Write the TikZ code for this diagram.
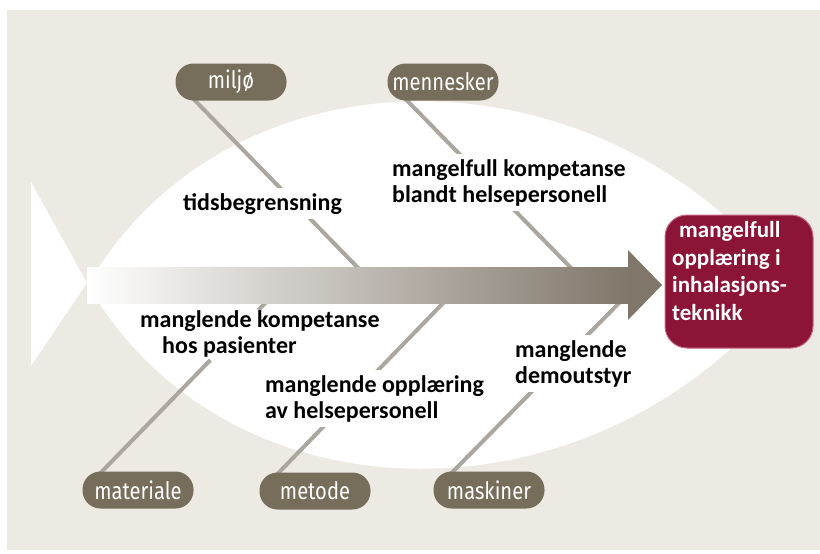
\documentclass[tikz,border=0pt]{standalone}
\usepackage{fontspec}
\setmainfont{Carlito}
\newfontfamily\pillfont[FakeStretch=0.84]{Fira Sans}
\definecolor{bgc}{HTML}{EDEAE3}
\definecolor{pillc}{HTML}{776D5B}
\definecolor{bone}{HTML}{ABA79E}
\definecolor{arrowc}{HTML}{80776A}
\definecolor{goalc}{HTML}{8C1437}
\definecolor{goaledge}{HTML}{C46A85}
\pgfdeclarelayer{background}
\pgfdeclarelayer{lines}
\pgfsetlayers{background,lines,main}
\tikzset{
 pill/.style={fill=pillc, text=white, rounded corners=18pt, minimum width=111pt, minimum height=37pt, inner sep=0pt, font=\pillfont\fontsize{24}{26}\selectfont},
 bonel/.style={draw=bone, line width=4pt},
 cause/.style={fill=white, inner sep=5pt, align=left, font=\bfseries\fontsize{24}{26}\selectfont, anchor=base west},
 goal/.style={fill=goalc, draw=goaledge, line width=1pt, rounded corners=22pt, minimum width=148pt, minimum height=133pt},
 goaltext/.style={text=white, align=left, font=\bfseries\fontsize{23}{27.5}\selectfont, inner sep=0pt, anchor=base west},
}
\begin{document}
\begin{tikzpicture}[x=1pt,y=-1pt]
\useasboundingbox (0,0) rectangle (820,554);
\begin{pgfonlayer}{background}
\fill[bgc] (7,10) rectangle (820,550);
\fill[white] (88,285) .. controls (230,40) and (600,40) .. (790,285) .. controls (600,530) and (230,530) .. (88,285) -- cycle;
\fill[white] (31,182) -- (87,283) -- (31,366) -- cycle;
\end{pgfonlayer}
% arrow
\shade[left color=white, right color=arrowc] (87,267) rectangle (629,303);
\fill[arrowc] (628,250) -- (662,285) -- (628,320) -- cycle;
% pills
\node[pill] (miljo) at (231,82) {miljø};
\node[pill] (mennesker) at (443,82) {mennesker};
\node[pill] (materiale) at (138,490) {materiale};
\node[pill] (metode) at (315,491) {metode};
\node[pill] (maskiner) at (489,490) {maskiner};
% end points on the arrow
\coordinate (e1) at (362,272);
\coordinate (e2) at (575,272);
\coordinate (e3) at (270,298);
\coordinate (e4) at (448,298);
\coordinate (e5) at (625,297);
% where the materiale line is broken by its label
\coordinate (m3a) at (210.4,360);
\coordinate (m3b) at (258.5,310);
% cause labels
\node[cause] (c1) at (178,210) {tidsbegrensning};
\node[cause] (c2) at (387,202) {mangelfull kompetanse\\blandt helsepersonell};
\node[cause, fill=none] (c3) at (135,353) {manglende kompetanse\\\hspace{22pt}hos pasienter};
\node[cause] (c4) at (260,418) {manglende opplæring\\av helsepersonell};
\node[cause] (c5) at (510,383) {manglende\\demoutstyr};
\begin{pgfonlayer}{lines}
\draw[bonel] ([xshift=14pt,yshift=6pt]miljo.south west) -- (e1);
\draw[bonel] ([xshift=14pt,yshift=6pt]mennesker.south west) -- (e2);
\draw[bonel] ([xshift=14pt,yshift=-6pt]materiale.north west) -- (m3a);
\draw[bonel] (m3b) -- (e3);
\draw[bonel] ([xshift=14pt,yshift=-6pt]metode.north west) -- (e4);
\draw[bonel] ([xshift=14pt,yshift=-6pt]maskiner.north west) -- (e5);
\end{pgfonlayer}
% effect
\node[goal] (goal) at (739,281.5) {};
\node[goaltext] (goaltext) at (672,320) {\hspace{7pt}mangelfull\\opplæring i\\inhalasjons-\\teknikk};
\end{tikzpicture}
\end{document}
